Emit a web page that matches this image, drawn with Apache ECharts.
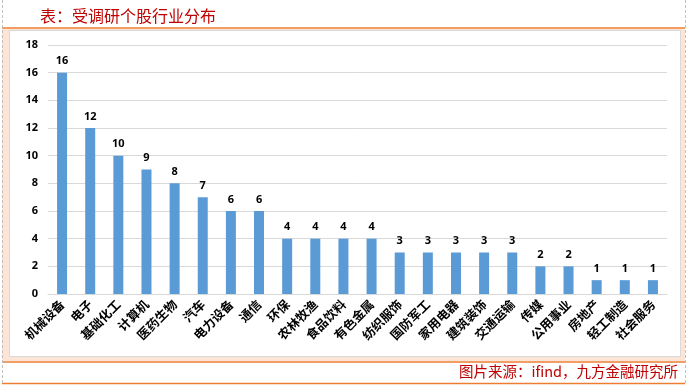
<!DOCTYPE html>
<html>
<head>
<meta charset="utf-8">
<script src="https://cdn.jsdelivr.net/npm/echarts@6/dist/echarts.min.js"></script>
<style>
html,body{margin:0;padding:0;background:#fff;}
#c{width:689px;height:385px;}
</style>
</head>
<body>
<div id="c"></div>
<script>
var categories = ['机械设备','电子','基础化工','计算机','医药生物','汽车','电力设备','通信','环保','农林牧渔','食品饮料','有色金属','纺织服饰','国防军工','家用电器','建筑装饰','交通运输','传媒','公用事业','房地产','轻工制造','社会服务'];
var counts = [16,12,10,9,8,7,6,6,4,4,4,4,3,3,3,3,3,2,2,1,1,1];
var yTicks = {min:0, max:18, interval:2};
var titleText = '表：受调研个股行业分布';
var sourceText = '图片来源：ifind，九方金融研究所';

var chart = echarts.init(document.getElementById('c'), null, {renderer:'canvas'});
var orange = '#ED7D31';
chart.setOption({
  animation:false,
  backgroundColor:'#fff',
  graphic:[
    {type:'rect', z:-10, shape:{x:2,y:29,width:683,height:332}, style:{fill:'#FCE4D6'}},
    {type:'rect', z:-9, shape:{x:9.5,y:30.5,width:671,height:326}, style:{fill:'#fff', stroke:'#D9D9D9', lineWidth:1}},
    {type:'line', shape:{x1:2,y1:28,x2:685,y2:28}, style:{stroke:orange, lineWidth:1.5}},
    {type:'line', shape:{x1:2,y1:362,x2:685,y2:362}, style:{stroke:orange, lineWidth:1.5}},
    {type:'line', shape:{x1:2,y1:383.5,x2:685,y2:383.5}, style:{stroke:orange, lineWidth:1.5}},
    {type:'line', shape:{x1:2.5,y1:0,x2:2.5,y2:385}, style:{stroke:'#BFBFBF', lineWidth:1, lineDash:[3,2]}},
    {type:'line', shape:{x1:685.5,y1:0,x2:685.5,y2:385}, style:{stroke:'#BFBFBF', lineWidth:1, lineDash:[3,2]}},
    {type:'text', left:40, top:8, style:{text:titleText, fill:'#C00000', font:'16px "Noto Sans CJK SC"'}},
    {type:'text', right:11, top:364, style:{text:sourceText, fill:'#C00000', font:'14.5px "Noto Sans CJK SC"'}}
  ],
  grid:{left:48, right:22, top:45, bottom:91},
  xAxis:{
    type:'category',
    data:categories,
    axisLine:{show:true, lineStyle:{color:'#D9D9D9'}},
    axisTick:{show:false},
    axisLabel:{rotate:45, interval:0, color:'#000', fontWeight:'bold', fontSize:12.5, fontFamily:'"Noto Sans CJK SC"', margin:8}
  },
  yAxis:{
    type:'value',
    min:yTicks.min, max:yTicks.max, interval:yTicks.interval,
    axisLine:{show:false},
    axisTick:{show:false},
    splitLine:{lineStyle:{color:'#D9D9D9'}},
    axisLabel:{color:'#000', fontWeight:'bold', fontSize:11, fontFamily:'"Noto Sans", sans-serif', margin:10}
  },
  series:[{
    type:'bar',
    data:counts,
    barWidth:10,
    itemStyle:{color:'#5B9BD5'},
    label:{show:true, position:'top', color:'#000', fontWeight:'bold', fontSize:11, fontFamily:'"Noto Sans", sans-serif', distance:6}
  }]
});
</script>
</body>
</html>
